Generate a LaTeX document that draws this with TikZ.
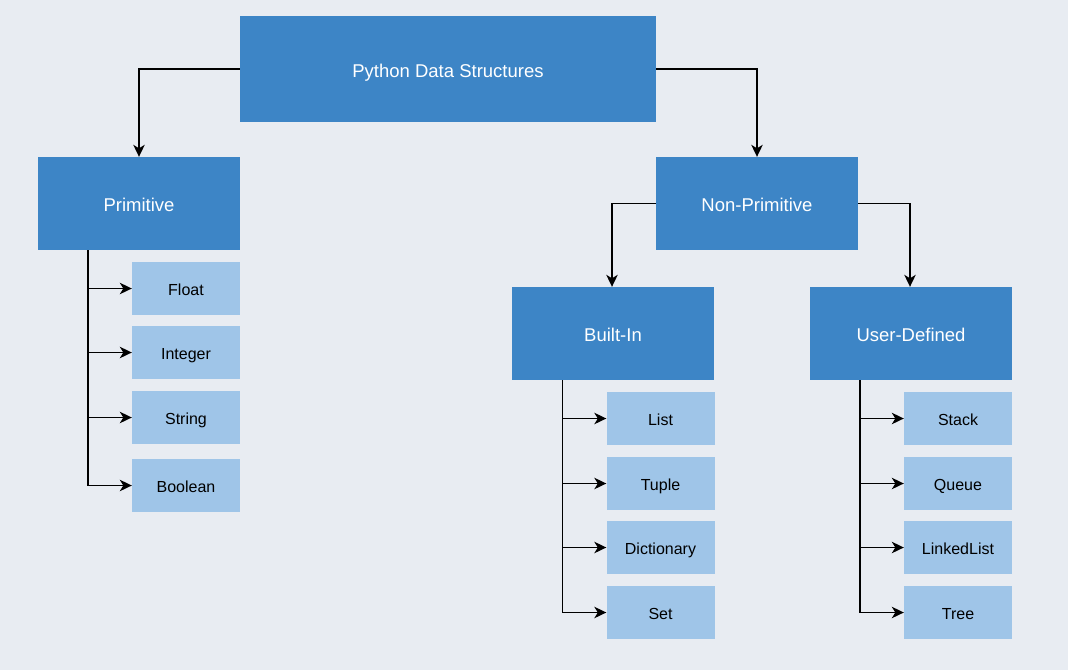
\documentclass[tikz,border=0pt]{standalone}
\usepackage{fontspec}
\setmainfont{Liberation Sans}
\usetikzlibrary{arrows.meta}
\definecolor{bg}{RGB}{232,236,242}
\definecolor{dark}{RGB}{61,133,198}
\definecolor{light}{RGB}{159,197,232}
\begin{document}
\begin{tikzpicture}[x=1pt,y=-1pt,
  box/.style={draw=none,inner sep=0pt,text depth=0pt},
  main/.style={box,fill=dark,text=white,minimum width=202pt,minimum height=93pt,text height=16.5pt,font=\fontsize{18.5}{22}\selectfont},
  leaf/.style={box,fill=light,text=black,minimum width=108pt,minimum height=53pt,text height=13pt,font=\fontsize{16}{19}\selectfont},
  arr/.style={line width=1.3pt,-{Stealth[length=12pt,width=11.5pt,inset=3.5pt]}}]
\fill[bg] (0,0) rectangle (1068,670);
\useasboundingbox (0,0) rectangle (1068,670);
\node[main,minimum width=416pt,minimum height=106pt] (top) at (448,69) {Python Data Structures};
\node[main] (prim) at (139,203.5) {Primitive};
\node[main] (nonp) at (757,203.5) {Non-Primitive};
\node[main] (bi) at (613,333.5) {Built-In};
\node[main] (ud) at (911,333.5) {User-Defined};
\node[leaf] (pf) at (186,288.5) {Float};
\node[leaf] (pi) at (186,352.5) {Integer};
\node[leaf] (ps) at (186,417.5) {String};
\node[leaf] (pb) at (186,485.5) {Boolean};
\node[leaf] (bl) at (660.5,418.5) {List};
\node[leaf] (bt) at (660.5,483.5) {Tuple};
\node[leaf] (bd) at (660.5,547.5) {Dictionary};
\node[leaf] (bs) at (660.5,612.5) {Set};
\node[leaf] (us) at (958,418.5) {Stack};
\node[leaf] (uq) at (958,483.5) {Queue};
\node[leaf] (ul) at (958,547.5) {LinkedList};
\node[leaf] (ut) at (958,612.5) {Tree};
\draw[arr] (top.west) -| (prim.north);
\draw[arr] (top.east) -| (nonp.north);
\draw[arr] (nonp.west) -| ([xshift=-1pt]bi.north);
\draw[arr] (nonp.east) -| ([xshift=-1pt]ud.north);
\foreach \c in {pf,pi,ps,pb} \draw[arr] ([xshift=-51pt]prim.south) |- (\c.west);
\foreach \c in {bl,bt,bd,bs} \draw[arr] ([xshift=-50.5pt]bi.south) |- (\c.west);
\foreach \c in {us,uq,ul,ut} \draw[arr] ([xshift=-51pt]ud.south) |- (\c.west);
\end{tikzpicture}
\end{document}
